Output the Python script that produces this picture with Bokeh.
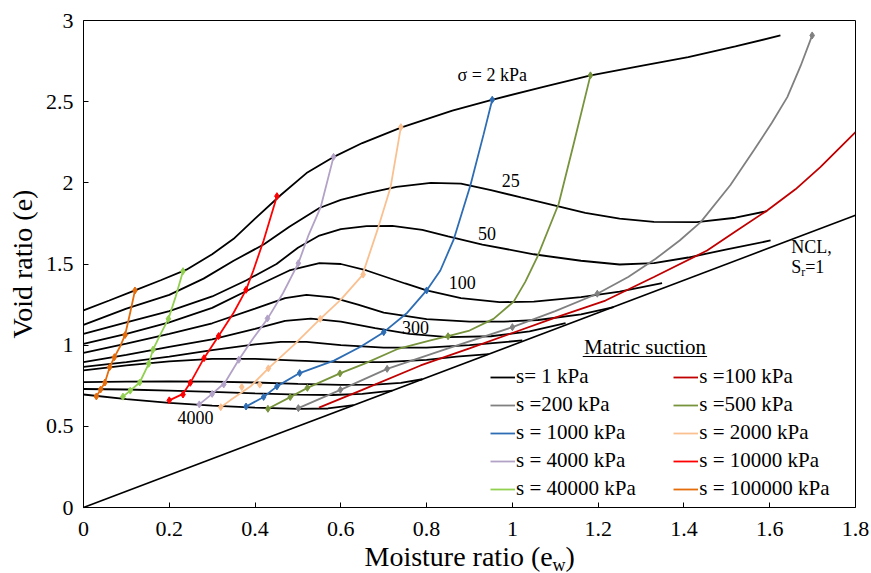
import math
from bokeh.plotting import figure
from bokeh.models import (Label, Legend, LegendItem, BoxAnnotation, FixedTicker, Range1d, LinearAxis)
from bokeh.embed import file_html
from bokeh.resources import INLINE

FONT = "Liberation Serif"

# ---------------- axes ----------------
x_ticks = [0, 0.2, 0.4, 0.6, 0.8, 1.0, 1.2, 1.4, 1.6, 1.8]
x_tick_labels = ["0", "0.2", "0.4", "0.6", "0.8", "1", "1.2", "1.4", "1.6", "1.8"]
y_ticks = [0, 0.5, 1.0, 1.5, 2.0, 2.5, 3.0]
y_tick_labels = ["0", "0.5", "1", "1.5", "2", "2.5", "3"]
x_title_parts = ["Moisture ratio (e", "w", ")"]
y_title = "Void ratio (e)"
X_MIN, X_MAX = 0.0, 1.8
Y_MIN, Y_MAX = 0.0, 3.0

# ---------------- NCL (Sr = 1) ----------------
ncl_ew = [0.0, 1.8]
ncl_e = [0.0, 1.8]

# ---------------- constant net stress curves (black) ----------------
sig2_ew = [0, 0.06, 0.12, 0.18, 0.24, 0.30, 0.35, 0.40, 0.46, 0.52, 0.58, 0.65, 0.74, 0.86, 0.95, 1.07, 1.18, 1.30, 1.41, 1.52, 1.625]
sig2_e = [1.214, 1.275, 1.337, 1.40, 1.465, 1.56, 1.655, 1.78, 1.925, 2.06, 2.155, 2.245, 2.34, 2.445, 2.51, 2.59, 2.66, 2.72, 2.775, 2.84, 2.908]

sig25_ew = [0, 0.1, 0.2, 0.28, 0.35, 0.42, 0.48, 0.55, 0.6, 0.66, 0.73, 0.81, 0.88, 0.95, 1.02, 1.1, 1.17, 1.25, 1.33, 1.43, 1.52, 1.594]
sig25_e = [1.125, 1.225, 1.31, 1.41, 1.52, 1.62, 1.73, 1.845, 1.895, 1.935, 1.975, 2.0, 1.995, 1.955, 1.91, 1.86, 1.815, 1.78, 1.76, 1.758, 1.785, 1.826]

sig50_ew = [0, 0.1, 0.2, 0.3, 0.38, 0.45, 0.5, 0.55, 0.6, 0.66, 0.72, 0.79, 0.85, 0.93, 1.05, 1.16, 1.25, 1.33, 1.41, 1.5, 1.602]
sig50_e = [1.07, 1.14, 1.21, 1.3, 1.40, 1.50, 1.6, 1.675, 1.715, 1.733, 1.735, 1.71, 1.67, 1.62, 1.56, 1.52, 1.497, 1.505, 1.54, 1.59, 1.645]

sig100_ew = [0, 0.1, 0.2, 0.3, 0.4, 0.48, 0.55, 0.6, 0.66, 0.75, 0.8, 0.88, 0.97, 1.05, 1.16, 1.25, 1.349]
sig100_e = [1.008, 1.07, 1.14, 1.23, 1.36, 1.46, 1.505, 1.5, 1.46, 1.38, 1.337, 1.29, 1.265, 1.268, 1.296, 1.33, 1.382]

sig200_ew = [0, 0.1, 0.2, 0.3, 0.4, 0.47, 0.52, 0.58, 0.64, 0.7, 0.8, 0.9, 0.98, 1.06, 1.16, 1.236]
sig200_e = [0.953, 1.01, 1.07, 1.135, 1.225, 1.29, 1.31, 1.295, 1.25, 1.2, 1.16, 1.145, 1.145, 1.155, 1.19, 1.234]

sig300_ew = [0, 0.1, 0.2, 0.3, 0.4, 0.47, 0.53, 0.6, 0.68, 0.76, 0.85, 0.95, 1.04, 1.124]
sig300_e = [0.895, 0.94, 0.99, 1.035, 1.1, 1.15, 1.163, 1.145, 1.105, 1.07, 1.05, 1.055, 1.085, 1.136]

sig500_ew = [0, 0.1, 0.2, 0.3, 0.4, 0.46, 0.52, 0.6, 0.7, 0.8, 0.9, 1.023]
sig500_e = [0.866, 0.895, 0.93, 0.97, 1.005, 1.02, 1.02, 1.0, 0.985, 0.985, 1.0, 1.029]

sig1000_ew = [0, 0.1, 0.2, 0.3, 0.4, 0.5, 0.6, 0.7, 0.8, 0.87, 0.945]
sig1000_e = [0.845, 0.875, 0.9, 0.915, 0.915, 0.905, 0.895, 0.895, 0.91, 0.93, 0.945]

sig2000_ew = [0, 0.1, 0.2, 0.3, 0.4, 0.5, 0.6, 0.68, 0.74, 0.79]
sig2000_e = [0.772, 0.776, 0.777, 0.775, 0.77, 0.762, 0.755, 0.757, 0.768, 0.79]

sig3000_ew = [0, 0.1, 0.2, 0.3, 0.4, 0.5, 0.58, 0.65, 0.72]
sig3000_e = [0.73, 0.727, 0.72, 0.712, 0.703, 0.695, 0.693, 0.7, 0.72]

sig4000_ew = [0, 0.1, 0.2, 0.3, 0.4, 0.5, 0.57, 0.63]
sig4000_e = [0.696, 0.668, 0.645, 0.627, 0.615, 0.608, 0.61, 0.63]

stress_curves = [
    (sig2_ew, sig2_e), (sig25_ew, sig25_e), (sig50_ew, sig50_e), (sig100_ew, sig100_e),
    (sig200_ew, sig200_e), (sig300_ew, sig300_e), (sig500_ew, sig500_e), (sig1000_ew, sig1000_e),
    (sig2000_ew, sig2000_e), (sig3000_ew, sig3000_e), (sig4000_ew, sig4000_e),
]

stress_label_texts = ["\u03c3 = 2 kPa", "25", "50", "100", "300", "4000"]
stress_label_ew = [0.953, 0.996, 0.941, 0.883, 0.774, 0.261]
stress_label_e = [2.662, 2.015, 1.686, 1.388, 1.111, 0.556]

# ---------------- constant suction curves ----------------
s100_ew = [0.549, 0.65, 0.786, 0.9, 1.0, 1.1, 1.217, 1.33, 1.454, 1.52, 1.594, 1.66, 1.718, 1.8]
s100_e = [0.615, 0.725, 0.875, 0.98, 1.075, 1.17, 1.275, 1.42, 1.583, 1.70, 1.83, 1.96, 2.097, 2.313]
s100_mk_ew = []
s100_mk_e = []

s200_ew = [0.501, 0.599, 0.708, 0.85, 1.0, 1.1, 1.198, 1.27, 1.334, 1.39, 1.439, 1.508, 1.563, 1.605, 1.641, 1.672, 1.699]
s200_e = [0.612, 0.725, 0.854, 0.98, 1.111, 1.21, 1.317, 1.42, 1.532, 1.645, 1.758, 1.985, 2.2, 2.37, 2.528, 2.72, 2.908]
s200_mk_ew = [0.501, 0.599, 0.708, 1.0, 1.198, 1.699]
s200_mk_e = [0.612, 0.725, 0.854, 1.111, 1.317, 2.908]

s500_ew = [0.43, 0.482, 0.522, 0.598, 0.654, 0.731, 0.809, 0.85, 0.9, 0.956, 1.003, 1.03, 1.058, 1.108, 1.143, 1.182]
s500_e = [0.608, 0.68, 0.737, 0.826, 0.885, 0.975, 1.03, 1.055, 1.09, 1.162, 1.268, 1.39, 1.542, 1.871, 2.241, 2.662]
s500_mk_ew = [0.43, 0.482, 0.522, 0.598, 0.85, 1.182]
s500_mk_e = [0.608, 0.68, 0.737, 0.826, 1.055, 2.662]

s1000_ew = [0.379, 0.42, 0.451, 0.504, 0.584, 0.646, 0.7, 0.755, 0.8, 0.832, 0.863, 0.902, 0.933, 0.953]
s1000_e = [0.622, 0.681, 0.746, 0.828, 0.905, 0.99, 1.08, 1.2, 1.337, 1.46, 1.65, 1.984, 2.3, 2.512]
s1000_mk_ew = [0.379, 0.42, 0.451, 0.504, 0.7, 0.8, 0.953]
s1000_mk_e = [0.622, 0.681, 0.746, 0.828, 1.08, 1.337, 2.512]

s2000_ew = [0.32, 0.342, 0.389, 0.431, 0.49, 0.552, 0.6, 0.65, 0.685, 0.716, 0.74]
s2000_e = [0.618, 0.66, 0.745, 0.857, 1.0, 1.162, 1.28, 1.43, 1.707, 1.973, 2.343]
s2000_mk_ew = [0.32, 0.369, 0.411, 0.431, 0.552, 0.652, 0.74]
s2000_mk_e = [0.618, 0.742, 0.757, 0.857, 1.162, 1.435, 2.343]

s4000_ew = [0.27, 0.3, 0.33, 0.361, 0.395, 0.429, 0.465, 0.501, 0.525, 0.553, 0.583]
s4000_e = [0.635, 0.7, 0.77, 0.905, 1.04, 1.162, 1.32, 1.505, 1.68, 1.85, 2.16]
s4000_mk_ew = [0.27, 0.3, 0.327, 0.362, 0.429, 0.501, 0.583]
s4000_mk_e = [0.635, 0.7, 0.758, 0.91, 1.165, 1.505, 2.16]

s10000_ew = [0.2, 0.232, 0.249, 0.281, 0.315, 0.35, 0.379, 0.396, 0.42, 0.451]
s10000_e = [0.66, 0.7, 0.768, 0.92, 1.056, 1.2, 1.341, 1.46, 1.645, 1.918]
s10000_mk_ew = [0.2, 0.232, 0.249, 0.281, 0.315, 0.379, 0.451]
s10000_mk_e = [0.66, 0.696, 0.768, 0.92, 1.056, 1.341, 1.918]

s40000_ew = [0.092, 0.109, 0.131, 0.152, 0.162, 0.18, 0.198, 0.215, 0.232]
s40000_e = [0.683, 0.72, 0.77, 0.885, 0.972, 1.07, 1.162, 1.3, 1.456]
s40000_mk_ew = [0.092, 0.109, 0.131, 0.152, 0.162, 0.198, 0.232]
s40000_mk_e = [0.683, 0.72, 0.77, 0.885, 0.972, 1.162, 1.456]

s100000_ew = [0.03, 0.04, 0.05, 0.061, 0.072, 0.085, 0.097, 0.11, 0.12]
s100000_e = [0.684, 0.727, 0.77, 0.864, 0.926, 0.99, 1.063, 1.214, 1.337]
s100000_mk_ew = [0.03, 0.04, 0.05, 0.061, 0.072, 0.097, 0.12]
s100000_mk_e = [0.684, 0.727, 0.77, 0.864, 0.926, 1.063, 1.337]

suction_series = {
    "s =100 kPa": (s100_ew, s100_e, s100_mk_ew, s100_mk_e, "#C00000"),
    "s =200 kPa": (s200_ew, s200_e, s200_mk_ew, s200_mk_e, "#808080"),
    "s =500 kPa": (s500_ew, s500_e, s500_mk_ew, s500_mk_e, "#77933C"),
    "s = 1000 kPa": (s1000_ew, s1000_e, s1000_mk_ew, s1000_mk_e, "#2E6DB4"),
    "s = 2000 kPa": (s2000_ew, s2000_e, s2000_mk_ew, s2000_mk_e, "#FAC090"),
    "s = 4000 kPa": (s4000_ew, s4000_e, s4000_mk_ew, s4000_mk_e, "#B3A2C7"),
    "s = 10000 kPa": (s10000_ew, s10000_e, s10000_mk_ew, s10000_mk_e, "#FF0000"),
    "s = 40000 kPa": (s40000_ew, s40000_e, s40000_mk_ew, s40000_mk_e, "#92D050"),
    "s = 100000 kPa": (s100000_ew, s100000_e, s100000_mk_ew, s100000_mk_e, "#E46C0A"),
}
legend_title = "Matric suction"
legend_left = ["s= 1 kPa", "s =200 kPa", "s = 1000 kPa", "s = 4000 kPa", "s = 40000 kPa"]
legend_right = ["s =100 kPa", "s =500 kPa", "s = 2000 kPa", "s = 10000 kPa", "s = 100000 kPa"]

# ---------------- layout (pixels) ----------------
W, H = 871, 573
BOX_L, BOX_T, BOX_R, BOX_B = 83, 20, 855, 507     # plot-area box in the page
sx = (BOX_R - BOX_L) / (X_MAX - X_MIN)
sy = (BOX_B - BOX_T) / (Y_MAX - Y_MIN)

# the frame covers the whole page so that titles outside the plot box are not clipped
p = figure(frame_width=W, frame_height=H,
           x_range=Range1d(X_MIN - BOX_L / sx, X_MAX + (W - BOX_R) / sx),
           y_range=Range1d(Y_MIN - (H - BOX_B) / sy, Y_MAX + BOX_T / sy),
           output_backend="svg", toolbar_location=None, min_border=0,
           x_axis_location=None, y_axis_location=None,
           background_fill_color="white", border_fill_color="white")
p.grid.visible = False
p.outline_line_color = None


def style_axis(ax):
    ax.axis_line_color = "black"
    ax.axis_line_width = 1
    ax.major_tick_line_color = "black"
    ax.major_tick_in = 5
    ax.major_tick_out = 0
    ax.minor_tick_in = 0
    ax.minor_tick_out = 0
    ax.minor_tick_line_color = None
    ax.major_label_text_font = FONT
    ax.major_label_text_font_size = "22px"
    ax.major_label_text_color = "black"


xaxis = LinearAxis(fixed_location=Y_MIN, bounds=(X_MIN, X_MAX), ticker=FixedTicker(ticks=x_ticks),
                   major_label_overrides={t: l for t, l in zip(x_ticks, x_tick_labels)})
style_axis(xaxis)
xaxis.major_label_standoff = 14
p.add_layout(xaxis, "below")

yaxis = LinearAxis(fixed_location=X_MIN, bounds=(Y_MIN, Y_MAX), ticker=FixedTicker(ticks=y_ticks),
                   major_label_overrides={t: l for t, l in zip(y_ticks, y_tick_labels)})
style_axis(yaxis)
yaxis.major_label_standoff = 10
p.add_layout(yaxis, "left")

# box border: top and right edges of the plot area
for loc, bnds, side in ((Y_MAX, (X_MIN, X_MAX), "above"), (X_MAX, (Y_MIN, Y_MAX), "right")):
    ax = LinearAxis(fixed_location=loc, bounds=bnds, ticker=FixedTicker(ticks=[]))
    ax.axis_line_color = "black"
    ax.axis_line_width = 1
    ax.major_tick_line_color = None
    ax.minor_tick_line_color = None
    ax.major_label_text_alpha = 0
    p.add_layout(ax, side)

# NCL
p.line(ncl_ew, ncl_e, line_color="black", line_width=1.6)

# stress curves
black_renderers = []
for xs, ys in stress_curves:
    black_renderers.append(p.line(xs, ys, line_color="black", line_width=1.8))

# suction curves
line_renderers = {"s= 1 kPa": black_renderers[0]}
for name, (lx, ly, mx, my, col) in suction_series.items():
    r = p.line(lx, ly, line_color=col, line_width=1.8)
    line_renderers[name] = r
    if mx:
        p.scatter(mx, my, marker="diamond", size=7, fill_color=col, line_color=col)

# curve labels
for t, xx, yy in zip(stress_label_texts, stress_label_ew, stress_label_e):
    p.add_layout(Label(x=xx, y=yy, text=t, text_font=FONT, text_font_size="18px",
                       text_align="center", text_baseline="middle", text_color="black"))

# NCL label
p.add_layout(Label(x=1.65, y=1.604, text="NCL,", text_font=FONT, text_font_size="18px",
                   text_align="left", text_baseline="middle", text_color="black"))
p.add_layout(Label(x=1.65, y=1.48, text="S", text_font=FONT, text_font_size="18px",
                   text_align="left", text_baseline="middle", text_color="black"))
p.add_layout(Label(x=1.65, y=1.48, x_offset=10, y_offset=-5, text="r", text_font=FONT,
                   text_font_size="12px", text_align="left", text_baseline="middle", text_color="black"))
p.add_layout(Label(x=1.65, y=1.48, x_offset=14, text="=1", text_font=FONT, text_font_size="18px",
                   text_align="left", text_baseline="middle", text_color="black"))

# axis titles (screen units from the page's bottom-left corner)
p.add_layout(Label(x=22, y=H - 263.5, x_units="screen", y_units="screen", text=y_title,
                   angle=math.pi / 2, text_font=FONT, text_font_size="28px", text_align="center",
                   text_baseline="middle", text_color="black"))
p.add_layout(Label(x=364, y=H - 556, x_units="screen", y_units="screen", text=x_title_parts[0],
                   text_font=FONT, text_font_size="28px", text_align="left",
                   text_baseline="middle", text_color="black"))
p.add_layout(Label(x=364 + 188, y=H - 564, x_units="screen", y_units="screen", text=x_title_parts[1],
                   text_font=FONT, text_font_size="18px", text_align="left",
                   text_baseline="middle", text_color="black"))
p.add_layout(Label(x=364 + 201, y=H - 556, x_units="screen", y_units="screen", text=x_title_parts[2],
                   text_font=FONT, text_font_size="28px", text_align="left",
                   text_baseline="middle", text_color="black"))

# legend title (underlined)
p.add_layout(Label(x=644.5, y=H - 346.7, x_units="screen", y_units="screen", text=legend_title,
                   text_font=FONT, text_font_size="21px", text_align="center",
                   text_baseline="middle", text_color="black"))
p.add_layout(BoxAnnotation(left=1.164, right=1.454, bottom=0.9265, top=0.933,
                           fill_color="black", fill_alpha=1, line_color=None))


def make_legend(names, loc):
    return Legend(items=[LegendItem(label=n, renderers=[line_renderers[n]]) for n in names],
                  location=loc, orientation="vertical", padding=0, margin=0, spacing=0,
                  glyph_width=25, glyph_height=28, label_height=28, label_standoff=1,
                  label_text_font=FONT, label_text_font_size="21px", label_text_color="black",
                  border_line_color=None, background_fill_alpha=0)


p.add_layout(make_legend(legend_left, (490, H - 502.7)))
p.add_layout(make_legend(legend_right, (673.3, H - 502.7)))

open("out.html", "w").write(file_html(p, INLINE))
